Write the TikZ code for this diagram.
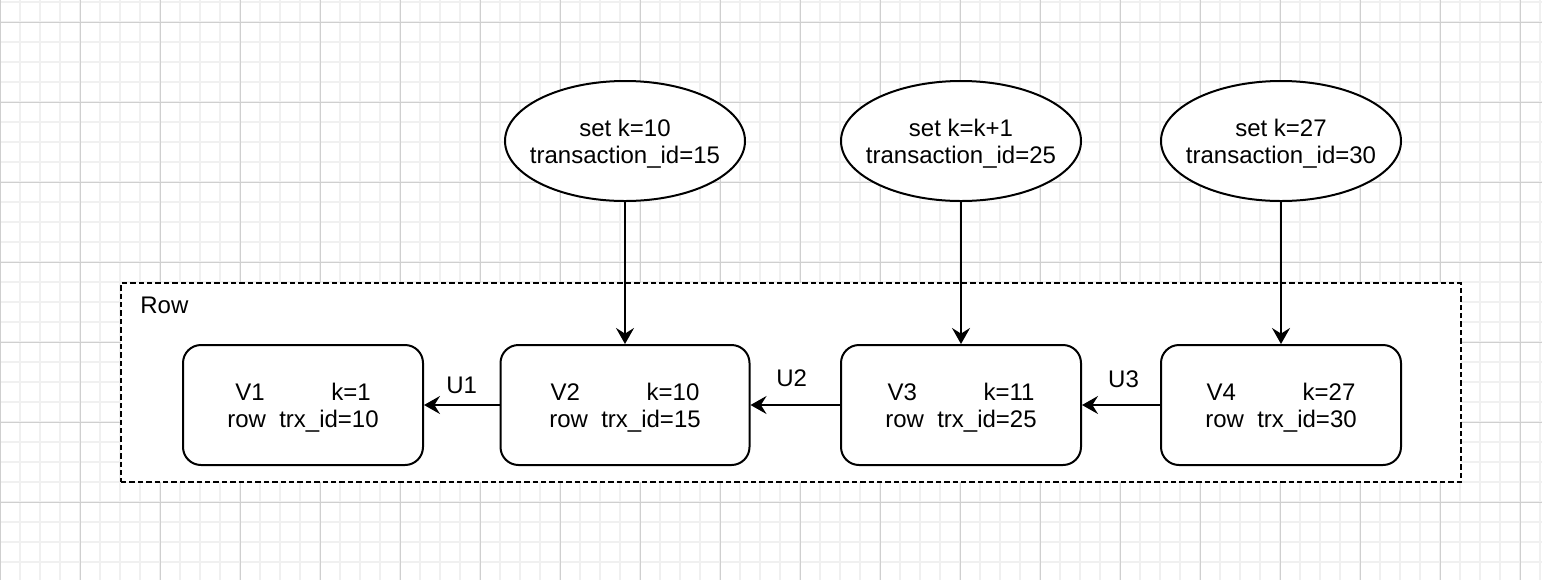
\documentclass[tikz,border=0pt]{standalone}
\usepackage{fontspec}
\setmainfont{Liberation Sans}
\usetikzlibrary{arrows.meta,shapes.geometric}
\begin{document}
\begin{tikzpicture}[x=0.5pt,y=-0.5pt,
  every node/.style={font=\fontsize{12}{13.5}\selectfont},
  minorgrid/.style={draw=black!6, line width=0.6pt},
  majorgrid/.style={draw=black!19, line width=0.5pt},
  container/.style={draw, line width=1pt, fill=white, dash pattern=on 2.7pt off 1.5pt, minimum width=670pt, minimum height=99.5pt, inner sep=0pt},
  verbox/.style={draw, line width=1pt, fill=white, rounded corners=9pt, minimum width=120pt, minimum height=60pt, align=center, text depth=0pt, inner sep=0pt},
  txnell/.style={ellipse, draw, line width=1pt, fill=white, minimum width=120pt, minimum height=60pt, align=center, text depth=0pt, inner sep=0pt},
  arr/.style={line width=1pt, -{Stealth[length=8pt,width=9pt,inset=2.8pt]}},
  ulabel/.style={anchor=base, inner sep=0pt},
]
\useasboundingbox (0,0) rectangle (1542,580);
\fill[white] (0,0) rectangle (1542,580);
% grid
\foreach \i in {0,20,...,1540} \draw[minorgrid] (\i,0) -- (\i,580);
\foreach \j in {2,22,...,562} \draw[minorgrid] (0,\j) -- (1542,\j);
\foreach \i in {0,80,...,1520} \draw[majorgrid] (\i,0) -- (\i,580);
\foreach \j in {22,102,...,502} \draw[majorgrid] (0,\j) -- (1542,\j);

% container
\node[container] (row) at (791,382.5) {};
\node[anchor=base west, inner sep=0pt] (rowlabel) at (140,313) {Row};

% version boxes
\node[verbox] (v1) at (303,405) {V1\hspace{2.78em}k=1\\row\hspace{0.556em}trx\_id=10};
\node[verbox, minimum width=124.5pt] (v2) at (625,405) {V2\hspace{2.78em}k=10\\row\hspace{0.556em}trx\_id=15};
\node[verbox] (v3) at (961,405) {V3\hspace{2.78em}k=11\\row\hspace{0.556em}trx\_id=25};
\node[verbox] (v4) at (1281,405) {V4\hspace{2.78em}k=27\\row\hspace{0.556em}trx\_id=30};

% transactions
\node[txnell] (e1) at (625,141) {\makebox[0pt]{set k=10}\\\makebox[0pt]{transaction\_id=15}};
\node[txnell] (e2) at (961,141) {\makebox[0pt]{set k=k+1}\\\makebox[0pt]{transaction\_id=25}};
\node[txnell] (e3) at (1281,141) {\makebox[0pt]{set k=27}\\\makebox[0pt]{transaction\_id=30}};

% connectors
\draw[arr] (e1.south) -- (v2.north);
\draw[arr] (e2.south) -- (v3.north);
\draw[arr] (e3.south) -- (v4.north);
\draw[arr] (v2.west) -- (v1.east) node[ulabel, midway, yshift=6pt] {U1};
\draw[arr] (v3.west) -- (v2.east) node[ulabel, midway, xshift=-1.75pt, yshift=9.5pt] {U2};
\draw[arr] (v4.west) -- (v3.east) node[ulabel, midway, xshift=1.25pt, yshift=9pt] {U3};
\end{tikzpicture}
\end{document}
